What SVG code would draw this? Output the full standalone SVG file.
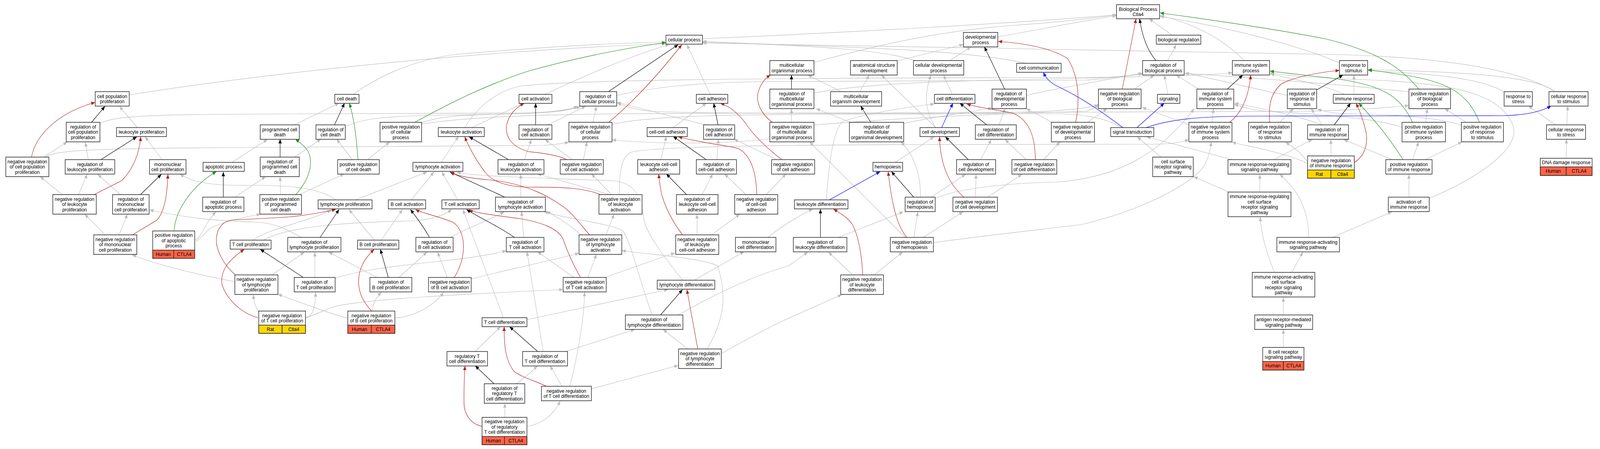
<svg xmlns="http://www.w3.org/2000/svg" width="4415" height="1149" viewBox="0 0 4415 1149">
<defs>
<style>
text{font-family:"Liberation Sans",Arial,sans-serif;font-size:13px;fill:#000;text-anchor:middle}
.nd rect{fill:#fff;stroke:#222;stroke-width:1.5}
.nd rect.hu{fill:#FF6347}
.nd rect.ra{fill:#FFD700}
#connectors path{fill:none;stroke-width:1.2}
.g path{stroke:#BEBEBE;marker-end:url(#mg)}
.k path{stroke:#000;marker-end:url(#mk)}
.r path{stroke:#B22222;marker-end:url(#mr)}
.gr path{stroke:#228B22;marker-end:url(#mgr)}
.b path{stroke:#0000FF;marker-end:url(#mb)}
</style>
<marker id="mg" markerUnits="userSpaceOnUse" markerWidth="12" markerHeight="10" refX="11" refY="4.5" orient="auto"><path d="M0,0 L11,4.5 L0,9 z" fill="#BEBEBE"/></marker>
<marker id="mk" markerUnits="userSpaceOnUse" markerWidth="12" markerHeight="10" refX="11" refY="4.5" orient="auto"><path d="M0,0 L11,4.5 L0,9 z" fill="#000"/></marker>
<marker id="mr" markerUnits="userSpaceOnUse" markerWidth="12" markerHeight="10" refX="11" refY="4.5" orient="auto"><path d="M0,0 L11,4.5 L0,9 z" fill="#B22222"/></marker>
<marker id="mgr" markerUnits="userSpaceOnUse" markerWidth="12" markerHeight="10" refX="11" refY="4.5" orient="auto"><path d="M0,0 L11,4.5 L0,9 z" fill="#228B22"/></marker>
<marker id="mb" markerUnits="userSpaceOnUse" markerWidth="12" markerHeight="10" refX="11" refY="4.5" orient="auto"><path d="M0,0 L11,4.5 L0,9 z" fill="#0000FF"/></marker>
</defs>
<rect x="0" y="0" width="4415" height="1149" fill="#fff"/>
<g id="diagram" transform="scale(0.9265,1)">
<g id="connectors">
<g class="g">
<path d="M380,327 L330,272"/>
<path d="M276,316 C310,298 400,293 700,292 L1450,289 C1540,288 1580,282 1604,272"/>
<path d="M120,402 L186,363"/>
<path d="M125,402 C150,385 250,380 600,378 L1500,372 C1540,370 1555,367 1572,364"/>
<path d="M244,409 L236,364"/>
<path d="M448,409 L401,350"/>
<path d="M217,498 L241,446"/>
<path d="M172,498 L111,452"/>
<path d="M333,498 L270,446"/>
<path d="M290,601 L234,548"/>
<path d="M329,601 L352,548"/>
<path d="M649,721 C560,705 440,680 365,652"/>
<path d="M930,512 C880,480 800,474 700,474 C600,476 540,470 497,446"/>
<path d="M833,608 C790,585 760,570 700,568 C600,566 500,555 413,537"/>
<path d="M538,614 C552,610 560,590 570,575 C578,562 588,550 597,542"/>
<path d="M640,416 L739,357"/>
<path d="M649,505 L734,452"/>
<path d="M540,618 C555,612 565,595 580,585 C620,565 680,555 720,548"/>
<path d="M976,241 C1040,200 1120,160 1250,140 C1500,120 1700,110 1840,108"/>
<path d="M812,320 L937,264"/>
<path d="M775,498 L774,452"/>
<path d="M827,498 L951,445"/>
<path d="M812,403 L887,356"/>
<path d="M974,409 L930,356"/>
<path d="M1015,409 L1077,363"/>
<path d="M1165,315 C1200,300 1260,294 1400,292 C1500,290 1560,286 1596,272"/>
<path d="M954,325 C990,305 1060,296 1250,294 C1450,292 1550,288 1600,272"/>
<path d="M1303,327 L1446,264"/>
<path d="M1284,327 C1320,270 1380,230 1440,220 C1600,205 2000,200 3000,198 C3200,197 3350,192 3405,186"/>
<path d="M1219,416 L1267,349"/>
<path d="M981,512 L1180,440"/>
<path d="M1136,512 L1199,440"/>
<path d="M1265,512 L1221,440"/>
<path d="M1449,409 L1468,357"/>
<path d="M1582,409 L1506,357"/>
<path d="M1612,409 L1622,363"/>
<path d="M1513,320 L1618,272"/>
<path d="M1638,313 L1648,272"/>
<path d="M1962,241 L1898,114"/>
<path d="M1506,241 C1600,200 1750,140 1850,114"/>
<path d="M1704,244 C1800,225 1900,212 2100,209 L3000,205 C3080,200 3130,192 3157,188"/>
<path d="M1860,326 L1952,264"/>
<path d="M1826,409 L1841,349"/>
<path d="M1981,409 L1985,356"/>
<path d="M2148,409 L2028,356"/>
<path d="M2117,498 L2172,445"/>
<path d="M2061,498 L2002,445"/>
<path d="M1940,498 L1969,445"/>
<path d="M1926,601 L1926,548"/>
<path d="M1966,601 L2044,548"/>
<path d="M1685,498 L1485,445"/>
<path d="M1690,498 L1634,445"/>
<path d="M1711,498 C1712,440 1715,405 1742,390 C1800,375 2100,372 2500,370 L3200,369 C3250,368 3270,362 3285,357"/>
<path d="M1605,601 C1580,580 1550,560 1510,541"/>
<path d="M1674,601 L1697,548"/>
<path d="M1624,710 L1648,651"/>
<path d="M1586,710 L1485,644"/>
<path d="M1671,710 L1865,647"/>
<path d="M1501,899 L1456,644"/>
<path d="M1565,899 L1754,843"/>
<path d="M1553,989 L1520,936"/>
<path d="M1574,989 C1600,900 1615,800 1615,747"/>
<path d="M1634,995 L1874,935"/>
<path d="M1900,893 L1832,843"/>
<path d="M1954,893 C2000,820 2010,760 1983,680 C1940,660 1780,650 1718,641"/>
<path d="M1993,905 C2060,870 2140,830 2180,814 L2326,754"/>
<path d="M1456,818 L1846,741"/>
<path d="M1919,717 L2056,644"/>
<path d="M1886,717 C1820,640 1790,600 1780,565 C1770,500 1755,470 1700,463 C1500,455 1300,452 1262,440"/>
<path d="M1802,806 C1760,700 1745,620 1720,590 C1680,570 1560,560 1503,541"/>
<path d="M1874,806 C2000,740 2100,700 2180,680 L2232,645"/>
<path d="M2120,608 C2160,580 2200,555 2246,535"/>
<path d="M700,614 C740,585 860,565 915,537"/>
<path d="M730,614 C800,575 1000,568 1150,565 C1200,560 1230,550 1248,536"/>
<path d="M870,710 L870,645"/>
<path d="M751,704 L841,645"/>
<path d="M1042,710 L908,645"/>
<path d="M1029,796 C1030,775 1040,760 1054,748"/>
<path d="M961,814 C900,800 820,770 768,753"/>
<path d="M1091,814 C1150,810 1200,780 1226,748"/>
<path d="M844,814 C865,812 872,780 872,748"/>
<path d="M844,812 C870,808 890,795 918,786 C1000,765 1300,752 1556,741"/>
<path d="M716,800 C705,785 700,770 701,754"/>
<path d="M1236,710 L1209,645"/>
<path d="M1102,710 L1180,645"/>
<path d="M1243,608 C1300,580 1360,560 1393,542"/>
<path d="M1054,614 L1112,536"/>
<path d="M1034,614 L964,536"/>
<path d="M1302,714 C1380,695 1450,682 1500,670 C1540,662 1570,655 1600,648"/>
<path d="M1447,608 L1441,541"/>
<path d="M925,712 C1000,690 1100,680 1200,670 C1300,660 1370,650 1399,641"/>
<path d="M1391,813 L1279,536"/>
<path d="M1312,900 L1383,836"/>
<path d="M1395,1068 L1395,1032"/>
<path d="M1426,982 C1450,968 1470,950 1485,936"/>
<path d="M1456,1091 C1500,1085 1530,1060 1548,1026"/>
<path d="M1439,505 L1439,446"/>
<path d="M2757,94 C2850,80 2950,60 3085,40"/>
<path d="M2623,156 L2683,120"/>
<path d="M2477,156 L2662,114"/>
<path d="M2376,234 L2402,192"/>
<path d="M2324,234 L2232,192"/>
<path d="M2631,241 L2607,192"/>
<path d="M2585,326 C2560,290 2550,250 2572,192"/>
<path d="M2585,326 L2435,192"/>
<path d="M2760,320 L2777,278"/>
<path d="M2350,313 L2255,278"/>
<path d="M2283,512 C2290,430 2300,330 2330,310 C2400,290 2500,275 2582,266"/>
<path d="M2473,416 L2581,350"/>
<path d="M2709,409 L2739,357"/>
<path d="M2836,409 L2777,357"/>
<path d="M2883,409 L2929,363"/>
<path d="M2572,505 L2668,446"/>
<path d="M2543,505 C2545,440 2520,390 2489,363"/>
<path d="M2695,505 L2697,446"/>
<path d="M2728,505 L2824,446"/>
<path d="M2525,608 L2536,542"/>
<path d="M2550,608 L2661,542"/>
<path d="M2355,703 L2289,645"/>
<path d="M2416,703 L2494,645"/>
<path d="M2315,608 L2496,542"/>
<path d="M2579,621 C2700,605 2850,590 2986,575 C3150,540 3300,470 3330,420 C3340,400 3345,380 3347,363"/>
<path d="M2584,508 C2650,480 2800,468 2920,466 C3080,455 3200,400 3300,278"/>
<path d="M2501,607 L2237,363"/>
<path d="M2249,160 C2400,120 2600,78 2800,65 C2950,55 3030,45 3085,38"/>
<path d="M2187,313 L2187,278"/>
<path d="M2249,238 C2400,210 2700,205 3000,200 C3100,197 3130,193 3157,189"/>
<path d="M2249,320 C2500,300 2800,290 3000,285 C3020,280 3030,272 3035,266"/>
<path d="M1691,318 C1800,296 2000,292 2500,292 C2900,290 3000,280 3035,268"/>
<path d="M2836,162 C2700,135 2500,125 2180,115 L1941,106"/>
<path d="M2532,156 C2450,130 2300,118 1941,108"/>
<path d="M1941,99 C2300,85 2800,60 3085,38"/>
<path d="M3099,326 C3050,300 2990,292 2920,291 C2500,290 2000,292 1800,285 C1750,280 1720,270 1705,263"/>
<path d="M1952,320 L1705,262"/>
<path d="M3208,402 L3142,350"/>
<path d="M3406,409 L3168,350"/>
<path d="M3519,409 L3626,357"/>
<path d="M3397,492 L3298,452"/>
<path d="M3481,492 L3481,446"/>
<path d="M3616,608 C3616,540 3590,490 3536,446"/>
<path d="M3522,697 C3500,650 3485,600 3482,555"/>
<path d="M3569,697 L3600,645"/>
<path d="M3546,806 L3546,761"/>
<path d="M3546,889 L3546,843"/>
<path d="M3680,608 L3846,542"/>
<path d="M3893,505 L3893,446"/>
<path d="M3949,508 C4120,440 4200,370 4180,320 C4150,250 4050,215 3800,205 C3650,200 3560,195 3509,186"/>
<path d="M3239,90 L3175,48"/>
<path d="M3226,156 L3250,114"/>
<path d="M3135,228 L3189,192"/>
<path d="M3227,241 L3217,192"/>
<path d="M3439,156 C3380,100 3300,60 3205,40"/>
<path d="M3312,228 L3250,192"/>
<path d="M3349,313 L3353,278"/>
<path d="M3286,319 L3156,275"/>
<path d="M3536,313 L3574,278"/>
<path d="M3557,244 C3450,225 3350,200 3274,187"/>
<path d="M3654,320 C3600,300 3500,280 3411,264"/>
<path d="M3654,320 L3623,278"/>
<path d="M3678,399 L3677,357"/>
<path d="M3613,414 C3600,400 3590,385 3552,364"/>
<path d="M3613,418 C3550,390 3450,375 3404,364"/>
<path d="M3715,241 C3650,215 3560,200 3510,189"/>
<path d="M3741,241 L3741,192"/>
<path d="M3701,161 C3600,120 3400,70 3205,42"/>
<path d="M3848,409 L3713,357"/>
<path d="M3903,409 L3920,363"/>
<path d="M3937,409 L4040,363"/>
<path d="M3939,313 L3944,278"/>
<path d="M4052,313 L3992,278"/>
<path d="M4038,320 C3950,295 3800,292 3700,290 C3670,288 3655,284 3640,279"/>
<path d="M3874,326 C3800,300 3600,290 3500,285 C3450,280 3430,272 3410,267"/>
<path d="M3893,235 C3700,215 3400,195 3274,188"/>
<path d="M1165,318 C1300,295 1600,290 2000,290 L3600,285 C3750,282 3830,276 3893,270"/>
<path d="M4156,235 C4100,205 4000,190 3780,181"/>
<path d="M4296,234 C4250,200 4100,185 3780,178"/>
<path d="M4296,234 C4200,180 4000,145 3660,139 C3000,130 2400,118 1941,110"/>
<path d="M4299,320 L4223,271"/>
<path d="M4329,320 L4332,271"/>
<path d="M4328,405 L4328,356"/>
<path d="M357,243 C700,192 1300,130 1840,112"/>
<path d="M2836,244 C2900,230 3050,205 3157,187"/>
<path d="M2907,313 L2836,278"/>
<path d="M3005,313 L3059,278"/>
<path d="M2127,355 C2000,370 1800,368 1691,358"/>
<path d="M2497,316 C2600,295 2700,285 2741,276"/>
</g>
<g class="k">
<path d="M253,313 L290,272"/>
<path d="M278,409 L378,350"/>
<path d="M388,498 L446,446"/>
<path d="M617,505 L617,440"/>
<path d="M924,320 L952,264"/>
<path d="M774,403 L774,356"/>
<path d="M1406,409 L1296,350"/>
<path d="M1480,320 L1480,264"/>
<path d="M1396,505 L1243,440"/>
<path d="M1682,234 L1874,114"/>
<path d="M1984,320 L1972,264"/>
<path d="M1952,409 L1860,349"/>
<path d="M1898,499 L1841,445"/>
<path d="M1485,899 L1408,836"/>
<path d="M1825,806 L1886,741"/>
<path d="M884,608 L937,536"/>
<path d="M838,710 L719,638"/>
<path d="M1073,710 L1051,638"/>
<path d="M1187,608 C1170,580 1150,555 1134,536"/>
<path d="M1422,608 C1380,580 1320,555 1289,536"/>
<path d="M1365,982 L1313,936"/>
<path d="M2776,228 L2720,120"/>
<path d="M2727,320 L2652,264"/>
<path d="M2406,313 L2378,271"/>
<path d="M2676,409 L2612,350"/>
<path d="M2525,505 L2463,439"/>
<path d="M2267,608 L2267,535"/>
<path d="M2187,228 L2187,192"/>
<path d="M3195,156 C3170,130 3155,90 3149,48"/>
<path d="M3391,228 L3434,192"/>
<path d="M3638,230 L3711,192"/>
<path d="M3686,320 L3732,264"/>
</g>
<g class="r">
<path d="M87,402 C100,340 170,285 263,262"/>
<path d="M260,498 L337,462 C370,430 385,390 389,350"/>
<path d="M366,601 L434,563 C455,540 462,500 464,446"/>
<path d="M1662,499 C1620,482 1560,478 1460,479 C1400,478 1360,466 1340,440 C1315,410 1295,375 1284,350"/>
<path d="M1567,409 C1540,395 1480,390 1460,388 C1410,375 1395,345 1400,320 C1405,295 1425,275 1449,264"/>
<path d="M1629,601 C1600,570 1580,545 1558,530 C1520,505 1460,470 1350,460 C1290,455 1262,450 1245,440"/>
<path d="M1682,313 C1750,260 1820,190 1884,114"/>
<path d="M2161,409 C2120,380 2080,345 2060,315 C2035,285 2010,270 1990,264"/>
<path d="M2091,499 C2090,450 2080,400 2040,380 C2000,370 1960,370 1874,350"/>
<path d="M1886,601 C1860,570 1830,520 1825,480 C1822,465 1821,455 1820,445"/>
<path d="M1604,710 C1585,680 1570,650 1555,610 C1540,585 1500,570 1440,560 C1360,550 1310,545 1296,536"/>
<path d="M1511,989 C1480,975 1440,965 1420,950 C1395,920 1393,880 1393,836"/>
<path d="M1928,893 L1898,741"/>
<path d="M651,704 C620,680 595,640 598,610 C600,580 620,565 642,563 C700,560 760,558 800,555 C850,550 900,542 928,536"/>
<path d="M1027,796 C1000,770 985,740 993,700 C1000,670 1020,650 1034,638"/>
<path d="M713,813 C660,800 625,760 614,730 C605,690 640,660 675,638"/>
<path d="M1255,710 C1290,660 1290,590 1250,568 C1200,550 1165,545 1148,536"/>
<path d="M1332,1091 C1300,1085 1282,1060 1282,1029 C1282,990 1283,960 1285,936"/>
<path d="M2972,313 C2982,270 2985,200 2950,150 C2900,120 2820,110 2758,106"/>
<path d="M2861,409 C2860,360 2850,310 2800,290 C2750,280 2700,275 2671,266"/>
<path d="M2664,505 C2620,470 2598,420 2596,350"/>
<path d="M2506,608 C2480,580 2465,530 2454,439"/>
<path d="M2384,703 C2380,640 2370,600 2355,574 C2340,555 2320,545 2303,535"/>
<path d="M2134,313 C2100,290 2090,260 2094,240 C2100,215 2115,200 2129,192"/>
<path d="M3101,228 L3139,48"/>
<path d="M3397,313 C3430,290 3450,250 3456,192"/>
<path d="M3508,313 C3505,270 3510,240 3540,215 C3580,195 3650,185 3701,180"/>
<path d="M3742,416 C3770,400 3780,370 3775,340 C3765,300 3755,280 3747,264"/>
</g>
<g class="gr">
<path d="M481,591 C485,530 540,470 598,439"/>
<path d="M989,409 C985,350 978,300 965,264"/>
<path d="M817,498 C850,465 870,420 850,385 C840,372 825,362 816,356"/>
<path d="M1146,313 C1250,260 1350,215 1460,182 C1600,145 1750,120 1840,109"/>
<path d="M3920,228 C3870,170 3800,130 3660,99 C3500,70 3300,45 3205,33"/>
<path d="M3903,313 C3870,250 3830,215 3660,198 C3580,190 3540,185 3509,182"/>
<path d="M4088,313 C4060,250 4020,215 3900,195 C3830,185 3800,180 3780,179"/>
<path d="M3877,409 C3830,340 3790,300 3754,264"/>
</g>
<g class="b">
<path d="M2602,326 L2633,264"/>
<path d="M2291,512 L2432,439"/>
<path d="M3102,326 C3050,290 2990,250 2920,220 C2900,210 2890,200 2883,185"/>
<path d="M3142,326 L3217,264"/>
<path d="M3168,326 C3250,300 3350,297 3500,297 L4150,296 C4220,295 4260,285 4286,271"/>
</g>
</g>
<g id="nodes">
<g class="nd" id="n1"><rect x="3085" y="12" width="119" height="36"/><text><tspan x="3144.5" y="28">Biological Process</tspan><tspan x="3144.5" y="41">Ctla4</tspan></text></g>
<g class="nd" id="n2"><rect x="1840" y="90" width="101" height="23"/><text x="1890.5" y="106">cellular process</text></g>
<g class="nd" id="n3"><rect x="2662" y="83" width="95" height="37"/><text><tspan x="2709.5" y="99">developmental</tspan><tspan x="2709.5" y="113">process</tspan></text></g>
<g class="nd" id="n4"><rect x="3195" y="90" width="123" height="23"/><text x="3256.5" y="106">biological regulation</text></g>
<g class="nd" id="n5"><rect x="2127" y="155" width="122" height="37"/><text><tspan x="2188" y="171">multicellular</tspan><tspan x="2188" y="185">organismal process</tspan></text></g>
<g class="nd" id="n6"><rect x="2350" y="155" width="129" height="37"/><text><tspan x="2414.5" y="171">anatomical structure</tspan><tspan x="2414.5" y="185">development</tspan></text></g>
<g class="nd" id="n7"><rect x="2524" y="155" width="139" height="37"/><text><tspan x="2593.5" y="171">cellular developmental</tspan><tspan x="2593.5" y="185">process</tspan></text></g>
<g class="nd" id="n8"><rect x="2809" y="162" width="123" height="23"/><text x="2870.5" y="178">cell communication</text></g>
<g class="nd" id="n9"><rect x="3157" y="155" width="115" height="37"/><text><tspan x="3214.5" y="171">regulation of</tspan><tspan x="3214.5" y="185">biological process</tspan></text></g>
<g class="nd" id="n10"><rect x="3405" y="155" width="103" height="37"/><text><tspan x="3456.5" y="171">immune system</tspan><tspan x="3456.5" y="185">process</tspan></text></g>
<g class="nd" id="n11"><rect x="3701" y="155" width="78" height="37"/><text><tspan x="3740" y="171">response to</tspan><tspan x="3740" y="185">stimulus</tspan></text></g>
<g class="nd" id="n12"><rect x="263" y="234.5" width="94" height="37"/><text><tspan x="310" y="250.75">cell population</tspan><tspan x="310" y="264.25">proliferation</tspan></text></g>
<g class="nd" id="n13"><rect x="925" y="241.5" width="67" height="23"/><text x="958.5" y="257.5">cell death</text></g>
<g class="nd" id="n14"><rect x="1434" y="241.5" width="91" height="23"/><text x="1479.5" y="257.5">cell activation</text></g>
<g class="nd" id="n15"><rect x="1602" y="234.5" width="102" height="37"/><text><tspan x="1653" y="250.75">regulation of</tspan><tspan x="1653" y="264.25">cellular process</tspan></text></g>
<g class="nd" id="n16"><rect x="1924" y="241.5" width="87" height="23"/><text x="1967.5" y="257.5">cell adhesion</text></g>
<g class="nd" id="n17"><rect x="2127" y="228" width="122" height="50"/><text><tspan x="2188" y="244">regulation of</tspan><tspan x="2188" y="257.5">multicellular</tspan><tspan x="2188" y="271">organismal process</tspan></text></g>
<g class="nd" id="n18"><rect x="2295" y="234.5" width="141" height="37"/><text><tspan x="2365.5" y="250.75">multicellular</tspan><tspan x="2365.5" y="264.25">organism development</tspan></text></g>
<g class="nd" id="n19"><rect x="2582" y="241.5" width="112" height="23"/><text x="2638" y="257.5">cell differentiation</text></g>
<g class="nd" id="n20"><rect x="2741" y="228" width="95" height="50"/><text><tspan x="2788.5" y="244">regulation of</tspan><tspan x="2788.5" y="257.5">developmental</tspan><tspan x="2788.5" y="271">process</tspan></text></g>
<g class="nd" id="n21"><rect x="3035" y="228" width="118" height="50"/><text><tspan x="3094" y="244">negative regulation</tspan><tspan x="3094" y="257.5">of biological</tspan><tspan x="3094" y="271">process</tspan></text></g>
<g class="nd" id="n22"><rect x="3198" y="241.5" width="62" height="23"/><text x="3229" y="257.5">signaling</text></g>
<g class="nd" id="n23"><rect x="3307" y="228" width="102" height="50"/><text><tspan x="3358" y="244">regulation of</tspan><tspan x="3358" y="257.5">immune system</tspan><tspan x="3358" y="271">process</tspan></text></g>
<g class="nd" id="n24"><rect x="3557" y="228" width="81" height="50"/><text><tspan x="3597.5" y="244">regulation of</tspan><tspan x="3597.5" y="257.5">response to</tspan><tspan x="3597.5" y="271">stimulus</tspan></text></g>
<g class="nd" id="n25"><rect x="3684" y="241.5" width="113" height="23"/><text x="3740.5" y="257.5">immune response</text></g>
<g class="nd" id="n26"><rect x="3893" y="228" width="115" height="50"/><text><tspan x="3950.5" y="244">positive regulation</tspan><tspan x="3950.5" y="257.5">of biological</tspan><tspan x="3950.5" y="271">process</tspan></text></g>
<g class="nd" id="n27"><rect x="4156" y="234.5" width="78" height="37"/><text><tspan x="4195" y="250.75">response to</tspan><tspan x="4195" y="264.25">stress</tspan></text></g>
<g class="nd" id="n28"><rect x="4280" y="234.5" width="108" height="37"/><text><tspan x="4334" y="250.75">cellular response</tspan><tspan x="4334" y="264.25">to stimulus</tspan></text></g>
<g class="nd" id="n29"><rect x="183" y="313" width="93" height="50"/><text><tspan x="229.5" y="329">regulation of</tspan><tspan x="229.5" y="342.5">cell population</tspan><tspan x="229.5" y="356">proliferation</tspan></text></g>
<g class="nd" id="n30"><rect x="322" y="326.5" width="138" height="23"/><text x="391" y="342.5">leukocyte proliferation</text></g>
<g class="nd" id="n31"><rect x="719" y="319.5" width="108" height="37"/><text><tspan x="773" y="335.75">programmed cell</tspan><tspan x="773" y="349.25">death</tspan></text></g>
<g class="nd" id="n32"><rect x="873" y="319.5" width="81" height="37"/><text><tspan x="913.5" y="335.75">regulation of</tspan><tspan x="913.5" y="349.25">cell death</tspan></text></g>
<g class="nd" id="n33"><rect x="1050" y="313" width="115" height="50"/><text><tspan x="1107.5" y="329">positive regulation</tspan><tspan x="1107.5" y="342.5">of cellular</tspan><tspan x="1107.5" y="356">process</tspan></text></g>
<g class="nd" id="n34"><rect x="1211" y="326.5" width="127" height="23"/><text x="1274.5" y="342.5">leukocyte activation</text></g>
<g class="nd" id="n35"><rect x="1434" y="319.5" width="91" height="37"/><text><tspan x="1479.5" y="335.75">regulation of</tspan><tspan x="1479.5" y="349.25">cell activation</tspan></text></g>
<g class="nd" id="n36"><rect x="1572" y="313" width="119" height="50"/><text><tspan x="1631.5" y="329">negative regulation</tspan><tspan x="1631.5" y="342.5">of cellular</tspan><tspan x="1631.5" y="356">process</tspan></text></g>
<g class="nd" id="n37"><rect x="1788" y="326.5" width="111" height="23"/><text x="1843.5" y="342.5">cell-cell adhesion</text></g>
<g class="nd" id="n38"><rect x="1944" y="319.5" width="86" height="37"/><text><tspan x="1987" y="335.75">regulation of</tspan><tspan x="1987" y="349.25">cell adhesion</tspan></text></g>
<g class="nd" id="n39"><rect x="2127" y="313" width="122" height="50"/><text><tspan x="2188" y="329">negative regulation</tspan><tspan x="2188" y="342.5">of multicellular</tspan><tspan x="2188" y="356">organismal process</tspan></text></g>
<g class="nd" id="n40"><rect x="2347" y="313" width="150" height="50"/><text><tspan x="2422" y="329">regulation of</tspan><tspan x="2422" y="342.5">multicellular</tspan><tspan x="2422" y="356">organismal development</tspan></text></g>
<g class="nd" id="n41"><rect x="2542" y="326.5" width="109" height="23"/><text x="2596.5" y="342.5">cell development</text></g>
<g class="nd" id="n42"><rect x="2695" y="319.5" width="113" height="37"/><text><tspan x="2751.5" y="335.75">regulation of</tspan><tspan x="2751.5" y="349.25">cell differentiation</tspan></text></g>
<g class="nd" id="n43"><rect x="2905" y="313" width="119" height="50"/><text><tspan x="2964.5" y="329">negative regulation</tspan><tspan x="2964.5" y="342.5">of developmental</tspan><tspan x="2964.5" y="356">process</tspan></text></g>
<g class="nd" id="n44"><rect x="3069" y="326.5" width="119" height="23"/><text x="3128.5" y="342.5">signal transduction</text></g>
<g class="nd" id="n45"><rect x="3285" y="313" width="119" height="50"/><text><tspan x="3344.5" y="329">negative regulation</tspan><tspan x="3344.5" y="342.5">of immune system</tspan><tspan x="3344.5" y="356">process</tspan></text></g>
<g class="nd" id="n46"><rect x="3450" y="313" width="118" height="50"/><text><tspan x="3509" y="329">negative regulation</tspan><tspan x="3509" y="342.5">of response</tspan><tspan x="3509" y="356">to stimulus</tspan></text></g>
<g class="nd" id="n47"><rect x="3613" y="319.5" width="113" height="37"/><text><tspan x="3669.5" y="335.75">regulation of</tspan><tspan x="3669.5" y="349.25">immune response</tspan></text></g>
<g class="nd" id="n48"><rect x="3874" y="313" width="120" height="50"/><text><tspan x="3934" y="329">positive regulation</tspan><tspan x="3934" y="342.5">of immune system</tspan><tspan x="3934" y="356">process</tspan></text></g>
<g class="nd" id="n49"><rect x="4038" y="313" width="116" height="50"/><text><tspan x="4096" y="329">positive regulation</tspan><tspan x="4096" y="342.5">of response</tspan><tspan x="4096" y="356">to stimulus</tspan></text></g>
<g class="nd" id="n50"><rect x="4273" y="319.5" width="108" height="37"/><text><tspan x="4327" y="335.75">cellular response</tspan><tspan x="4327" y="349.25">to stress</tspan></text></g>
<g class="nd" id="n51"><rect x="16" y="402" width="119" height="50"/><text><tspan x="75.5" y="418">negative regulation</tspan><tspan x="75.5" y="431.5">of cell population</tspan><tspan x="75.5" y="445">proliferation</tspan></text></g>
<g class="nd" id="n52"><rect x="180" y="408.5" width="137" height="37"/><text><tspan x="248.5" y="424.75">regulation of</tspan><tspan x="248.5" y="438.25">leukocyte proliferation</tspan></text></g>
<g class="nd" id="n53"><rect x="413" y="408.5" width="101" height="37"/><text><tspan x="463.5" y="424.75">mononuclear</tspan><tspan x="463.5" y="438.25">cell proliferation</tspan></text></g>
<g class="nd" id="n54"><rect x="561" y="415.5" width="114" height="23"/><text x="618" y="431.5">apoptotic process</text></g>
<g class="nd" id="n55"><rect x="719" y="402" width="108" height="50"/><text><tspan x="773" y="418">regulation of</tspan><tspan x="773" y="431.5">programmed cell</tspan><tspan x="773" y="445">death</tspan></text></g>
<g class="nd" id="n56"><rect x="933" y="408.5" width="115" height="37"/><text><tspan x="990.5" y="424.75">positive regulation</tspan><tspan x="990.5" y="438.25">of cell death</tspan></text></g>
<g class="nd" id="n57"><rect x="1141" y="415.5" width="138" height="23"/><text x="1210" y="431.5">lymphocyte activation</text></g>
<g class="nd" id="n58"><rect x="1376" y="408.5" width="127" height="37"/><text><tspan x="1439.5" y="424.75">regulation of</tspan><tspan x="1439.5" y="438.25">leukocyte activation</tspan></text></g>
<g class="nd" id="n59"><rect x="1548" y="408.5" width="119" height="37"/><text><tspan x="1607.5" y="424.75">negative regulation</tspan><tspan x="1607.5" y="438.25">of cell activation</tspan></text></g>
<g class="nd" id="n60"><rect x="1762" y="408.5" width="116" height="37"/><text><tspan x="1820" y="424.75">leukocyte cell-cell</tspan><tspan x="1820" y="438.25">adhesion</tspan></text></g>
<g class="nd" id="n61"><rect x="1924" y="408.5" width="111" height="37"/><text><tspan x="1979.5" y="424.75">regulation of</tspan><tspan x="1979.5" y="438.25">cell-cell adhesion</tspan></text></g>
<g class="nd" id="n62"><rect x="2132" y="408.5" width="119" height="37"/><text><tspan x="2191.5" y="424.75">negative regulation</tspan><tspan x="2191.5" y="438.25">of cell adhesion</tspan></text></g>
<g class="nd" id="n63"><rect x="2412" y="415.5" width="82" height="23"/><text x="2453" y="431.5">hemopoiesis</text></g>
<g class="nd" id="n64"><rect x="2643" y="408.5" width="108" height="37"/><text><tspan x="2697" y="424.75">regulation of</tspan><tspan x="2697" y="438.25">cell development</tspan></text></g>
<g class="nd" id="n65"><rect x="2796" y="408.5" width="124" height="37"/><text><tspan x="2858" y="424.75">negative regulation</tspan><tspan x="2858" y="438.25">of cell differentiation</tspan></text></g>
<g class="nd" id="n66"><rect x="3185" y="402" width="112" height="50"/><text><tspan x="3241" y="418">cell surface</tspan><tspan x="3241" y="431.5">receptor signaling</tspan><tspan x="3241" y="445">pathway</tspan></text></g>
<g class="nd" id="n67"><rect x="3393" y="408.5" width="174" height="37"/><text><tspan x="3480" y="424.75">immune response-regulating</tspan><tspan x="3480" y="438.25">signaling pathway</tspan></text></g>
<g class="nd" id="n68"><rect x="3613" y="399" width="129" height="57"/><text><tspan x="3677.5" y="414.75">negative regulation</tspan><tspan x="3677.5" y="428.25">of immune response</tspan></text><rect class="ra" x="3613" y="435" width="64.5" height="21"/><rect class="ra" x="3677.5" y="435" width="64.5" height="21"/><text x="3645.25" y="450">Rat</text><text x="3709.75" y="450">Ctla4</text></g>
<g class="nd" id="n69"><rect x="3829" y="408.5" width="128" height="37"/><text><tspan x="3893" y="424.75">positive regulation</tspan><tspan x="3893" y="438.25">of immune response</tspan></text></g>
<g class="nd" id="n70"><rect x="4256" y="405" width="143" height="44"/><text x="4327.5" y="420.5">DNA damage response</text><rect class="hu" x="4256" y="427" width="71.5" height="22"/><rect class="hu" x="4327.5" y="427" width="71.5" height="22"/><text x="4291.75" y="442.5">Human</text><text x="4363.25" y="442.5">CTLA4</text></g>
<g class="nd" id="n71"><rect x="146" y="498" width="120" height="50"/><text><tspan x="206" y="514">negative regulation</tspan><tspan x="206" y="527.5">of leukocyte</tspan><tspan x="206" y="541">proliferation</tspan></text></g>
<g class="nd" id="n72"><rect x="311" y="498" width="101" height="50"/><text><tspan x="361.5" y="514">regulation of</tspan><tspan x="361.5" y="527.5">mononuclear</tspan><tspan x="361.5" y="541">cell proliferation</tspan></text></g>
<g class="nd" id="n73"><rect x="560" y="504.5" width="114" height="37"/><text><tspan x="617" y="520.75">regulation of</tspan><tspan x="617" y="534.25">apoptotic process</tspan></text></g>
<g class="nd" id="n74"><rect x="718" y="498" width="115" height="50"/><text><tspan x="775.5" y="514">positive regulation</tspan><tspan x="775.5" y="527.5">of programmed</tspan><tspan x="775.5" y="541">cell death</tspan></text></g>
<g class="nd" id="n75"><rect x="879" y="511.5" width="149" height="23"/><text x="953.5" y="527.5">lymphocyte proliferation</text></g>
<g class="nd" id="n76"><rect x="1073" y="511.5" width="103" height="23"/><text x="1124.5" y="527.5">B cell activation</text></g>
<g class="nd" id="n77"><rect x="1221" y="511.5" width="103" height="23"/><text x="1272.5" y="527.5">T cell activation</text></g>
<g class="nd" id="n78"><rect x="1369" y="504.5" width="138" height="37"/><text><tspan x="1438" y="520.75">regulation of</tspan><tspan x="1438" y="534.25">lymphocyte activation</tspan></text></g>
<g class="nd" id="n79"><rect x="1655" y="498" width="119" height="50"/><text><tspan x="1714.5" y="514">negative regulation</tspan><tspan x="1714.5" y="527.5">of leukocyte</tspan><tspan x="1714.5" y="541">activation</tspan></text></g>
<g class="nd" id="n80"><rect x="1869" y="498" width="115" height="50"/><text><tspan x="1926.5" y="514">regulation of</tspan><tspan x="1926.5" y="527.5">leukocyte cell-cell</tspan><tspan x="1926.5" y="541">adhesion</tspan></text></g>
<g class="nd" id="n81"><rect x="2030" y="498" width="119" height="50"/><text><tspan x="2089.5" y="514">negative regulation</tspan><tspan x="2089.5" y="527.5">of cell-cell</tspan><tspan x="2089.5" y="541">adhesion</tspan></text></g>
<g class="nd" id="n82"><rect x="2195" y="511.5" width="148" height="23"/><text x="2269" y="527.5">leukocyte differentiation</text></g>
<g class="nd" id="n83"><rect x="2501" y="504.5" width="83" height="37"/><text><tspan x="2542.5" y="520.75">regulation of</tspan><tspan x="2542.5" y="534.25">hemopoiesis</tspan></text></g>
<g class="nd" id="n84"><rect x="2633" y="504.5" width="123" height="37"/><text><tspan x="2694.5" y="520.75">negative regulation</tspan><tspan x="2694.5" y="534.25">of cell development</tspan></text></g>
<g class="nd" id="n85"><rect x="3393" y="491.5" width="174" height="63"/><text><tspan x="3480" y="507.25">immune response-regulating</tspan><tspan x="3480" y="520.75">cell surface</tspan><tspan x="3480" y="534.25">receptor signaling</tspan><tspan x="3480" y="547.75">pathway</tspan></text></g>
<g class="nd" id="n86"><rect x="3836" y="504.5" width="113" height="37"/><text><tspan x="3892.5" y="520.75">activation of</tspan><tspan x="3892.5" y="534.25">immune response</tspan></text></g>
<g class="nd" id="n87"><rect x="422" y="591" width="116" height="70"/><text><tspan x="480" y="606.5">positive regulation</tspan><tspan x="480" y="620">of apoptotic</tspan><tspan x="480" y="633.5">process</tspan></text><rect class="hu" x="422" y="640" width="58" height="21"/><rect class="hu" x="480" y="640" width="58" height="21"/><text x="451" y="655">Human</text><text x="509" y="655">CTLA4</text></g>
<g class="nd" id="n88"><rect x="259" y="601" width="119" height="50"/><text><tspan x="318.5" y="617">negative regulation</tspan><tspan x="318.5" y="630.5">of mononuclear</tspan><tspan x="318.5" y="644">cell proliferation</tspan></text></g>
<g class="nd" id="n89"><rect x="636" y="614.5" width="113" height="23"/><text x="692.5" y="630.5">T cell proliferation</text></g>
<g class="nd" id="n90"><rect x="795" y="607.5" width="147" height="37"/><text><tspan x="868.5" y="623.75">regulation of</tspan><tspan x="868.5" y="637.25">lymphocyte proliferation</tspan></text></g>
<g class="nd" id="n91"><rect x="988" y="614.5" width="114" height="23"/><text x="1045" y="630.5">B cell proliferation</text></g>
<g class="nd" id="n92"><rect x="1149" y="607.5" width="103" height="37"/><text><tspan x="1200.5" y="623.75">regulation of</tspan><tspan x="1200.5" y="637.25">B cell activation</tspan></text></g>
<g class="nd" id="n93"><rect x="1399" y="607.5" width="104" height="37"/><text><tspan x="1451" y="623.75">regulation of</tspan><tspan x="1451" y="637.25">T cell activation</tspan></text></g>
<g class="nd" id="n94"><rect x="1600" y="601" width="118" height="50"/><text><tspan x="1659" y="617">negative regulation</tspan><tspan x="1659" y="630.5">of lymphocyte</tspan><tspan x="1659" y="644">activation</tspan></text></g>
<g class="nd" id="n95"><rect x="1867" y="601" width="119" height="50"/><text><tspan x="1926.5" y="617">negative regulation</tspan><tspan x="1926.5" y="630.5">of leukocyte</tspan><tspan x="1926.5" y="644">cell-cell adhesion</tspan></text></g>
<g class="nd" id="n96"><rect x="2032" y="607.5" width="112" height="37"/><text><tspan x="2088" y="623.75">mononuclear</tspan><tspan x="2088" y="637.25">cell differentiation</tspan></text></g>
<g class="nd" id="n97"><rect x="2192" y="607.5" width="148" height="37"/><text><tspan x="2266" y="623.75">regulation of</tspan><tspan x="2266" y="637.25">leukocyte differentiation</tspan></text></g>
<g class="nd" id="n98"><rect x="2460" y="607.5" width="119" height="37"/><text><tspan x="2519.5" y="623.75">negative regulation</tspan><tspan x="2519.5" y="637.25">of hemopoiesis</tspan></text></g>
<g class="nd" id="n99"><rect x="3528" y="607.5" width="173" height="37"/><text><tspan x="3614.5" y="623.75">immune response-activating</tspan><tspan x="3614.5" y="637.25">signaling pathway</tspan></text></g>
<g class="nd" id="n100"><rect x="649" y="703.5" width="119" height="50"/><text><tspan x="708.5" y="719.5">negative regulation</tspan><tspan x="708.5" y="733">of lymphocyte</tspan><tspan x="708.5" y="746.5">proliferation</tspan></text></g>
<g class="nd" id="n101"><rect x="813" y="710" width="113" height="37"/><text><tspan x="869.5" y="726.25">regulation of</tspan><tspan x="869.5" y="739.75">T cell proliferation</tspan></text></g>
<g class="nd" id="n102"><rect x="1022" y="710" width="116" height="37"/><text><tspan x="1080" y="726.25">regulation of</tspan><tspan x="1080" y="739.75">B cell proliferation</tspan></text></g>
<g class="nd" id="n103"><rect x="1184" y="710" width="118" height="37"/><text><tspan x="1243" y="726.25">negative regulation</tspan><tspan x="1243" y="739.75">of B cell activation</tspan></text></g>
<g class="nd" id="n104"><rect x="1556" y="710" width="119" height="37"/><text><tspan x="1615.5" y="726.25">negative regulation</tspan><tspan x="1615.5" y="739.75">of T cell activation</tspan></text></g>
<g class="nd" id="n105"><rect x="1816" y="717" width="159" height="23"/><text x="1895.5" y="733">lymphocyte differentiation</text></g>
<g class="nd" id="n106"><rect x="2323" y="703.5" width="118" height="50"/><text><tspan x="2382" y="719.5">negative regulation</tspan><tspan x="2382" y="733">of leukocyte</tspan><tspan x="2382" y="746.5">differentiation</tspan></text></g>
<g class="nd" id="n107"><rect x="3460" y="697" width="173" height="63"/><text><tspan x="3546.5" y="712.75">immune response-activating</tspan><tspan x="3546.5" y="726.25">cell surface</tspan><tspan x="3546.5" y="739.75">receptor signaling</tspan><tspan x="3546.5" y="753.25">pathway</tspan></text></g>
<g class="nd" id="n108"><rect x="715" y="796" width="129" height="57"/><text><tspan x="779.5" y="811.75">negative regulation</tspan><tspan x="779.5" y="825.25">of T cell proliferation</tspan></text><rect class="ra" x="715" y="832" width="64.5" height="21"/><rect class="ra" x="779.5" y="832" width="64.5" height="21"/><text x="747.25" y="847">Rat</text><text x="811.75" y="847">Ctla4</text></g>
<g class="nd" id="n109"><rect x="961" y="796" width="130" height="57"/><text><tspan x="1026" y="811.75">negative regulation</tspan><tspan x="1026" y="825.25">of B cell proliferation</tspan></text><rect class="hu" x="961" y="832" width="65" height="21"/><rect class="hu" x="1026" y="832" width="65" height="21"/><text x="993.5" y="847">Human</text><text x="1058.5" y="847">CTLA4</text></g>
<g class="nd" id="n110"><rect x="1332" y="813" width="124" height="23"/><text x="1394" y="829">T cell differentiation</text></g>
<g class="nd" id="n111"><rect x="1728" y="806" width="159" height="37"/><text><tspan x="1807.5" y="822.25">regulation of</tspan><tspan x="1807.5" y="835.75">lymphocyte differentiation</tspan></text></g>
<g class="nd" id="n112"><rect x="3467" y="806" width="160" height="37"/><text><tspan x="3547" y="822.25">antigen receptor-mediated</tspan><tspan x="3547" y="835.75">signaling pathway</tspan></text></g>
<g class="nd" id="n113"><rect x="1235" y="899.5" width="112" height="37"/><text><tspan x="1291" y="915.75">regulatory T</tspan><tspan x="1291" y="929.25">cell differentiation</tspan></text></g>
<g class="nd" id="n114"><rect x="1444" y="899.5" width="124" height="37"/><text><tspan x="1506" y="915.75">regulation of</tspan><tspan x="1506" y="929.25">T cell differentiation</tspan></text></g>
<g class="nd" id="n115"><rect x="1875" y="893" width="118" height="50"/><text><tspan x="1934" y="909">negative regulation</tspan><tspan x="1934" y="922.5">of lymphocyte</tspan><tspan x="1934" y="936">differentiation</tspan></text></g>
<g class="nd" id="n116"><rect x="3489" y="889" width="114" height="58"/><text><tspan x="3546" y="904.75">B cell receptor</tspan><tspan x="3546" y="918.25">signaling pathway</tspan></text><rect class="hu" x="3489" y="925" width="57" height="22"/><rect class="hu" x="3546" y="925" width="57" height="22"/><text x="3517.5" y="940.5">Human</text><text x="3574.5" y="940.5">CTLA4</text></g>
<g class="nd" id="n117"><rect x="1338" y="982" width="112" height="50"/><text><tspan x="1394" y="998">regulation of</tspan><tspan x="1394" y="1011.5">regulatory T</tspan><tspan x="1394" y="1025">cell differentiation</tspan></text></g>
<g class="nd" id="n118"><rect x="1496" y="988.5" width="138" height="37"/><text><tspan x="1565" y="1004.75">negative regulation</tspan><tspan x="1565" y="1018.25">of T cell differentiation</tspan></text></g>
<g class="nd" id="n119"><rect x="1332" y="1068" width="124" height="70"/><text><tspan x="1394" y="1083.5">negative regulation</tspan><tspan x="1394" y="1097">of regulatory</tspan><tspan x="1394" y="1110.5">T cell differentiation</tspan></text><rect class="hu" x="1332" y="1117" width="62" height="21"/><rect class="hu" x="1394" y="1117" width="62" height="21"/><text x="1363" y="1132">Human</text><text x="1425" y="1132">CTLA4</text></g>
</g>
</g>
</svg>
